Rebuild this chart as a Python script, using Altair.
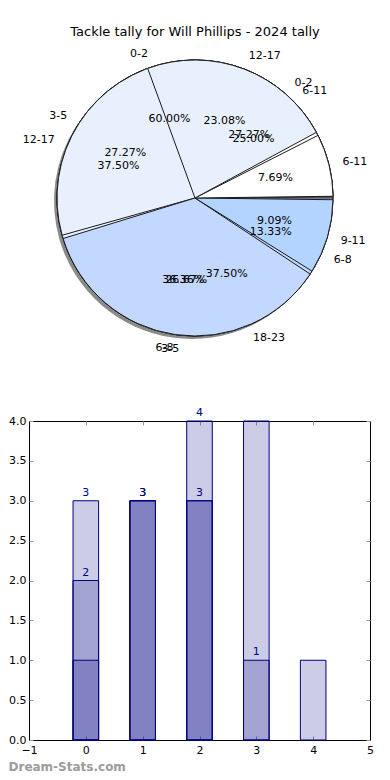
import math
import altair as alt
import pandas as pd

FONT = "DejaVu Sans"
TITLE = "Tackle tally for Will Phillips - 2024 tally"
WATERMARK = "Dream-Stats.com"

# ---- pie data (drawn in this order; later pies sit on top) ----
pie1_labels = ["0-2", "3-5", "6-8"]
pie1_values = [9, 4, 2]
pie2_labels = ["6-11", "12-17", "18-23"]
pie2_values = [2, 3, 3]
pie3_labels = ["0-2", "3-5", "6-8", "9-11"]
pie3_values = [3, 3, 4, 1]
pie4_labels = ["6-11", "12-17"]
pie4_values = [1, 3]
pie4_total = 13          # only part of this pie is drawn

# ---- bar data (three overlapping translucent series) ----
bar_a_x = [0, 1, 2, 3]
bar_a = [3, 3, 4, 1]
bar_b_x = [0, 1, 2]
bar_b = [2, 3, 3]
bar_c_x = [0, 1, 2, 3, 4]
bar_c = [1, 3, 3, 4, 1]

x_ticks = [-1, 0, 1, 2, 3, 4, 5]
y_ticks = [0, 0.5, 1, 1.5, 2, 2.5, 3, 3.5, 4]

# ---- layout (view coordinates; view origin is page (8, 44)) ----
W, H = 374, 728
CX, CY, R = 187, 154, 138
PX0, PX1 = 21, 362      # bar plot left/right
PY0, PY1 = 696, 377     # bar plot bottom/top


def pie_table(labels, values, total=None):
    total = total or sum(values)
    rows, cum = [], 0
    for i, (lab, v) in enumerate(zip(labels, values)):
        f0 = cum / total
        cum += v
        f1 = cum / total
        fm = (f0 + f1) / 2
        rows.append(dict(idx=i, label=lab, value=v, f0=f0, f1=f1, fm=fm,
                         pct=f"{100 * v / total:.2f}%",
                         side="R" if math.cos(2 * math.pi * fm) > 0 else "L"))
    return pd.DataFrame(rows)


pies = [pie_table(pie1_labels, pie1_values),
        pie_table(pie2_labels, pie2_values),
        pie_table(pie3_labels, pie3_values),
        pie_table(pie4_labels, pie4_values, pie4_total)]

theta_scale = alt.Scale(domain=[0, 1], range=[2.5 * math.pi, 0.5 * math.pi])
color_scale = alt.Scale(domain=[0, 1, 2, 3],
                        range=["#ffffff", "#e9f0fd", "#c3d8ff", "#b3d4ff"])
cx, cy = alt.value(CX), alt.value(CY)


def arcs(df, pad=0.0):
    return alt.Chart(df).mark_arc(radius=R, stroke="#1a1a1a", strokeWidth=1,
                                  padAngle=pad).encode(
        theta=alt.Theta("f0:Q", scale=theta_scale, stack=False),
        theta2="f1:Q",
        color=alt.Color("idx:O", scale=color_scale, legend=None),
        x=cx, y=cy)


def texts(df):
    base = alt.Chart(df)
    th = alt.Theta("fm:Q", scale=theta_scale, stack=False)
    out_r = base.transform_filter(alt.datum.side == "R").mark_text(
        radius=R * 1.1, align="left", baseline="middle", fontSize=11, font=FONT,
        color="black").encode(theta=th, text="label:N", x=cx, y=cy)
    out_l = base.transform_filter(alt.datum.side == "L").mark_text(
        radius=R * 1.1, align="right", baseline="middle", fontSize=11, font=FONT,
        color="black").encode(theta=th, text="label:N", x=cx, y=cy)
    pct = base.mark_text(radius=R * 0.6, align="center", baseline="middle",
                         fontSize=11, font=FONT, color="black").encode(
        theta=th, text="pct:N", x=cx, y=cy)
    return [out_r, out_l, pct]


shadow = alt.Chart(pies[2]).mark_arc(
    radius=R, color="#2a2a2a", opacity=0.55, xOffset=-3, yOffset=3).encode(
    theta=alt.Theta("f0:Q", scale=theta_scale, stack=False),
    theta2="f1:Q", x=cx, y=cy)

pie_layers = [shadow, arcs(pies[0]), arcs(pies[1]),
              arcs(pies[2], 0.025), arcs(pies[3], 0.025)]
for p in pies:
    pie_layers += texts(p)

# ---- bars ----
xs = alt.Scale(domain=[-1, 5], range=[PX0, PX1], nice=False, zero=False)
ys = alt.Scale(domain=[0, 4], range=[PY0, PY1], nice=False)
NAVY = "#000080"
TICK = "#9a9a9a"


def bar_df(xv, vals):
    return pd.DataFrame({"x": xv, "v": vals})


ax_x_main = alt.Axis(orient="bottom", offset=-(H - PY0), values=x_ticks, format="d",
                     ticks=False, domain=True, domainColor="black", labelColor="black",
                     labelFontSize=11, labelFont=FONT, labelPadding=4, labelFlush=False,
                     grid=False, title=WATERMARK, titleX=0, titleY=26, titleAlign="left",
                     titleBaseline="middle", titleColor="#9b9b9b", titleFontSize=12,
                     titleFont=FONT, titleFontWeight="bold")
ax_y_main = alt.Axis(orient="left", offset=-PX0, values=y_ticks, format=".1f",
                     ticks=False, domain=True, domainColor="black", labelColor="black",
                     labelFontSize=11, labelFont=FONT, labelPadding=3, labelFlush=False,
                     grid=False, title=None)
ax_x_tick_bottom = alt.Axis(orient="top", offset=-PY0, values=x_ticks, labels=False,
                            domain=False, ticks=True, tickSize=4, tickColor=TICK,
                            grid=False, title=None)
ax_y_tick_left = alt.Axis(orient="right", offset=-(W - PX0), values=y_ticks, labels=False,
                          domain=False, ticks=True, tickSize=4, tickColor=TICK,
                          grid=False, title=None)
ax_x_top = alt.Axis(orient="top", offset=-PY1, labels=False, ticks=False, domain=True,
                    domainColor="black", grid=False, title=None)
ax_y_right = alt.Axis(orient="right", offset=-(W - PX1), labels=False, ticks=False,
                      domain=True, domainColor="black", grid=False, title=None)
ax_x_tick_top = alt.Axis(orient="bottom", offset=-(H - PY1), values=x_ticks, labels=False,
                         domain=False, ticks=True, tickSize=4, tickColor=TICK,
                         grid=False, title=None)
ax_y_tick_right = alt.Axis(orient="left", offset=-PX1, values=y_ticks, labels=False,
                           domain=False, ticks=True, tickSize=4, tickColor=TICK,
                           grid=False, title=None)


def bars(df, axx, axy):
    return alt.Chart(df).transform_calculate(
        lo="datum.x - 0.225", hi="datum.x + 0.225").mark_bar(
        fill=NAVY, fillOpacity=0.2, stroke=NAVY, strokeWidth=1).encode(
        x=alt.X("lo:Q", scale=xs, axis=axx),
        x2="hi:Q",
        y=alt.Y("v:Q", scale=ys, axis=axy),
        y2=alt.datum(0))


def bar_text(df, axx, axy):
    return alt.Chart(df).mark_text(baseline="bottom", dy=-3, color=NAVY,
                                   fontSize=11, font=FONT).encode(
        x=alt.X("x:Q", scale=xs, axis=axx),
        y=alt.Y("v:Q", scale=ys, axis=axy),
        text=alt.Text("v:Q", format="d"))


bar_layers = [
    bars(bar_df(bar_c_x, bar_c), ax_x_main, ax_y_main),
    bars(bar_df(bar_b_x, bar_b), ax_x_tick_bottom, ax_y_tick_left),
    bars(bar_df(bar_a_x, bar_a), ax_x_top, ax_y_right),
    bar_text(bar_df(bar_a_x, bar_a), ax_x_tick_top, ax_y_tick_right),
    bar_text(bar_df(bar_b_x, bar_b), None, None),
]

chart = alt.layer(*pie_layers, *bar_layers).resolve_axis(
    x="independent", y="independent"
).properties(
    width=W, height=H,
    autosize=alt.AutoSizeParams(type="none"),
    padding={"top": 36, "left": 0, "right": 0, "bottom": 0},
    title=alt.Title(TITLE, fontSize=13, font=FONT, fontWeight="normal",
                    color="black", offset=5, anchor="middle"),
).configure(font=FONT).configure_view(strokeWidth=0, stroke="transparent")

chart.save("out.html", embed_options={"renderer": "svg", "actions": False})
